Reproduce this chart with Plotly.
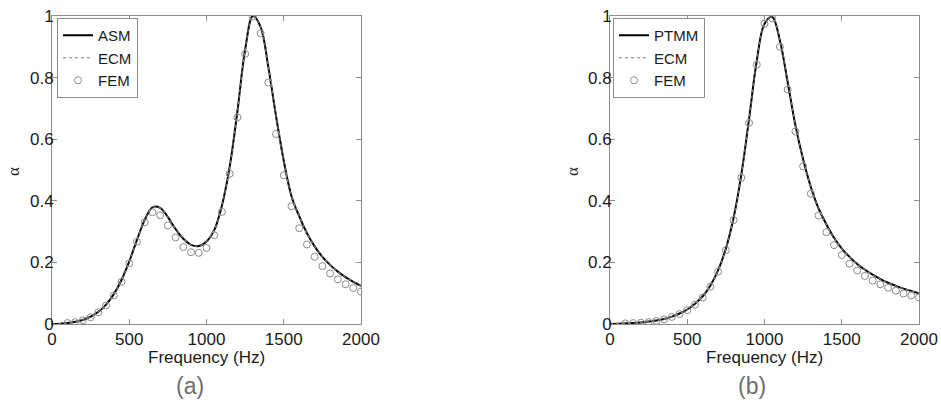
import plotly.graph_objects as go

# ---------------- data ----------------
freq = [0, 50, 100, 150, 200, 250, 300, 350, 400, 450, 500, 550, 600, 650, 700, 750,
        800, 850, 900, 950, 1000, 1050, 1100, 1150, 1200, 1250, 1300, 1350, 1400, 1450,
        1500, 1550, 1600, 1650, 1700, 1750, 1800, 1850, 1900, 1950, 2000]

asm_a = [0, 0.001, 0.003, 0.007, 0.013, 0.024, 0.040, 0.063, 0.097, 0.143, 0.203, 0.273,
         0.338, 0.379, 0.377, 0.347, 0.308, 0.277, 0.257, 0.253, 0.268, 0.305, 0.385,
         0.51, 0.69, 0.89, 1.0, 0.965, 0.835, 0.675, 0.53, 0.415, 0.35, 0.295, 0.252,
         0.218, 0.192, 0.17, 0.152, 0.137, 0.124]
ecm_a = [0, 0.001, 0.003, 0.007, 0.013, 0.024, 0.040, 0.063, 0.097, 0.143, 0.203, 0.273,
         0.338, 0.379, 0.377, 0.347, 0.308, 0.277, 0.257, 0.253, 0.268, 0.305, 0.385,
         0.51, 0.69, 0.89, 1.0, 0.965, 0.835, 0.675, 0.53, 0.415, 0.35, 0.295, 0.252,
         0.218, 0.192, 0.17, 0.152, 0.137, 0.124]

fem_freq = [100, 150, 200, 250, 300, 350, 400, 450, 500, 550, 600, 650, 700, 750, 800,
            850, 900, 950, 1000, 1050, 1100, 1150, 1200, 1250, 1300, 1350, 1400, 1450,
            1500, 1550, 1600, 1650, 1700, 1750, 1800, 1850, 1900, 1950, 2000]
fem_a = [0.003, 0.006, 0.012, 0.022, 0.038, 0.060, 0.093, 0.137, 0.197, 0.267, 0.330,
         0.363, 0.353, 0.320, 0.281, 0.250, 0.233, 0.231, 0.247, 0.288, 0.364, 0.488,
         0.671, 0.877, 0.998, 0.944, 0.784, 0.617, 0.483, 0.382, 0.311, 0.258, 0.218,
         0.188, 0.164, 0.145, 0.129, 0.117, 0.105]

ptmm_b = [0, 0.001, 0.002, 0.003, 0.005, 0.008, 0.011, 0.016, 0.024, 0.034, 0.047, 0.066,
          0.09, 0.125, 0.175, 0.245, 0.345, 0.485, 0.665, 0.855, 0.975, 0.997, 0.92,
          0.785, 0.645, 0.535, 0.445, 0.375, 0.324, 0.28, 0.245, 0.218, 0.195, 0.176,
          0.16, 0.146, 0.134, 0.124, 0.115, 0.107, 0.1]
ecm_b = [0, 0.001, 0.002, 0.003, 0.005, 0.008, 0.011, 0.016, 0.024, 0.034, 0.047, 0.066,
         0.09, 0.125, 0.175, 0.245, 0.345, 0.485, 0.665, 0.855, 0.975, 0.997, 0.92,
         0.785, 0.645, 0.535, 0.445, 0.375, 0.324, 0.28, 0.245, 0.218, 0.195, 0.176,
         0.16, 0.146, 0.134, 0.124, 0.115, 0.107, 0.1]
fem_b = [0.002, 0.003, 0.004, 0.006, 0.010, 0.015, 0.023, 0.032, 0.045, 0.063, 0.086,
         0.121, 0.170, 0.240, 0.337, 0.475, 0.653, 0.842, 0.975, 0.992, 0.900, 0.761,
         0.625, 0.512, 0.423, 0.352, 0.298, 0.256, 0.224, 0.196, 0.174, 0.156, 0.141,
         0.129, 0.118, 0.108, 0.099, 0.093, 0.086]

x_ticks = [0, 500, 1000, 1500, 2000]
y_ticks = [0, 0.2, 0.4, 0.6, 0.8, 1]
y_tick_text = ["0", "0.2", "0.4", "0.6", "0.8", "1"]

# ---------------- figure ----------------
W, H = 941, 405
FONT = "Liberation Sans, Arial, sans-serif"


def px(x):
    return x / W


def py(y):
    return 1 - y / H


fig = go.Figure()


def add_panel(xa, ya, legend, name1, y1, y2, yf):
    fig.add_trace(go.Scatter(x=freq, y=y1, mode="lines", name=name1,
                             line=dict(color="black", width=2, shape="spline"),
                             xaxis=xa, yaxis=ya, legend=legend))
    fig.add_trace(go.Scatter(x=freq, y=y2, mode="lines", name="ECM",
                             line=dict(color="#7a7a7a", width=1.2, dash="dot", shape="spline"),
                             xaxis=xa, yaxis=ya, legend=legend))
    fig.add_trace(go.Scatter(x=fem_freq, y=yf, mode="markers", name="FEM",
                             marker=dict(symbol="circle-open", size=7, color="#8a8a8a",
                                         line=dict(width=1, color="#8a8a8a")),
                             xaxis=xa, yaxis=ya, legend=legend))


add_panel("x", "y", "legend", "ASM", asm_a, ecm_a, fem_a)
add_panel("x2", "y2", "legend2", "PTMM", ptmm_b, ecm_b, fem_b)

ydom = [py(324), py(16)]
axis_common = dict(showline=True, linecolor="#8c8c8c", linewidth=1, mirror="ticks",
                   ticks="inside", ticklen=5, tickcolor="#8c8c8c", showgrid=False,
                   zeroline=False, tickfont=dict(size=17, color="#1a1a1a", family=FONT),
                   automargin=False)
yaxis_extra = dict(ticklabelstandoff=-6)

legend_common = dict(xanchor="left", yanchor="top", bgcolor="white",
                     bordercolor="#8c8c8c", borderwidth=1,
                     font=dict(size=15, color="#1a1a1a", family=FONT),
                     tracegroupgap=0, itemwidth=30)

fig.update_layout(
    width=W, height=H,
    margin=dict(l=0, r=0, t=0, b=0),
    paper_bgcolor="white", plot_bgcolor="white",
    font=dict(family=FONT, color="#1a1a1a"),
    xaxis=dict(domain=[px(52), px(361)], range=[0, 2000], tickvals=x_ticks, anchor="y",
               **axis_common),
    yaxis=dict(domain=ydom, range=[0, 1], tickvals=y_ticks, ticktext=y_tick_text,
               anchor="x", **axis_common, **yaxis_extra),
    xaxis2=dict(domain=[px(610), px(919)], range=[0, 2000], tickvals=x_ticks, anchor="y2",
                **axis_common),
    yaxis2=dict(domain=ydom, range=[0, 1], tickvals=y_ticks, ticktext=y_tick_text,
                anchor="x2", **axis_common, **yaxis_extra),
    legend=dict(x=px(57), y=py(18), **legend_common),
    legend2=dict(x=px(613), y=py(18), **legend_common),
    showlegend=True,
)

annots = [
    dict(text="Frequency (Hz)", x=px((52 + 361) / 2), y=py(357)),
    dict(text="Frequency (Hz)", x=px((610 + 919) / 2), y=py(357)),
    dict(text="(a)", x=px(190), y=py(386), size=23, color="#6e6e6e"),
    dict(text="(b)", x=px(752), y=py(386), size=23, color="#6e6e6e"),
    dict(text="α", x=px(13), y=py(172), size=17, angle=-90,
         family="Liberation Serif, Times New Roman, serif"),
    dict(text="α", x=px(572), y=py(172), size=17, angle=-90,
         family="Liberation Serif, Times New Roman, serif"),
]
for a in annots:
    fig.add_annotation(text=a["text"], x=a["x"], y=a["y"], xref="paper", yref="paper",
                       xanchor="center", yanchor="middle", showarrow=False,
                       textangle=a.get("angle", 0),
                       font=dict(size=a.get("size", 17), color=a.get("color", "#1a1a1a"),
                                 family=a.get("family", FONT)))

fig.write_html(
    "out.html",
    config={"displayModeBar": False},
    post_script="document.body.style.margin='0';document.body.style.overflow='hidden';",
)
